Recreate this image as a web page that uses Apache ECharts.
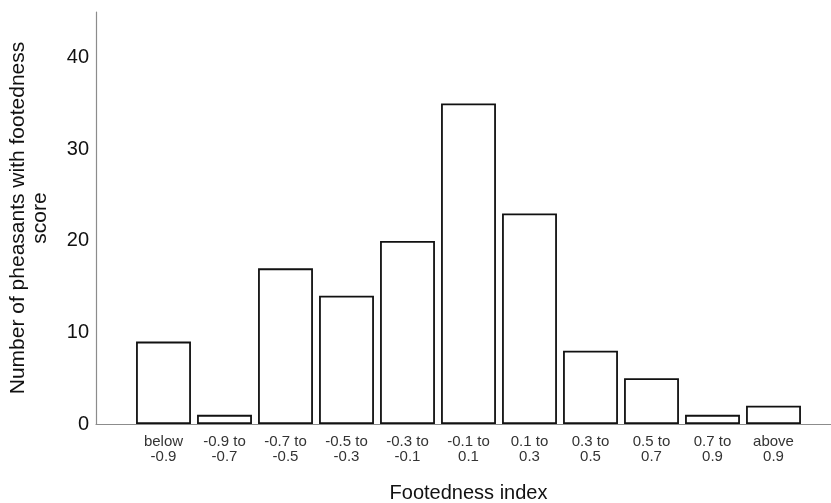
<!DOCTYPE html>
<html><head><meta charset="utf-8">
<script src="https://cdn.jsdelivr.net/npm/echarts@6/dist/echarts.min.js"></script>
<style>html,body{margin:0;padding:0;background:#fff}#c{width:831px;height:503px}</style>
</head><body><div id="c"></div>
<script>
var categories = ['below\n-0.9','-0.9 to\n-0.7','-0.7 to\n-0.5','-0.5 to\n-0.3','-0.3 to\n-0.1','-0.1 to\n0.1','0.1 to\n0.3','0.3 to\n0.5','0.5 to\n0.7','0.7 to\n0.9','above\n0.9'];
var counts = [9, 1, 17, 14, 20, 35, 23, 8, 5, 1, 2];
var yTicks = [0, 10, 20, 30, 40];

var chart = echarts.init(document.getElementById('c'));
chart.setOption({
  animation: false,
  backgroundColor: '#fff',
  grid: [
    {left: 96, right: 0, top: 12, bottom: 79, containLabel: false, outerBoundsMode: 'none'},
    {left: 133, right: 27, top: 12, bottom: 79, containLabel: false, outerBoundsMode: 'none'}
  ],
  xAxis: [
    {gridIndex: 0, type: 'value', min: 0, max: 1,
     axisLine: {show: true, lineStyle: {color: '#8c8c8c', width: 1.2}},
     axisTick: {show: false}, axisLabel: {show: false}, splitLine: {show: false}},
    {gridIndex: 1, type: 'category', data: categories,
     axisLine: {show: false}, axisTick: {show: false},
     axisLabel: {fontFamily: 'Liberation Sans, Arial, sans-serif', fontSize: 15, color: '#333', lineHeight: 15.5, margin: 10, interval: 0},
     name: 'Footedness index', nameLocation: 'middle', nameGap: 59,
     nameTextStyle: {fontFamily: 'Liberation Sans, Arial, sans-serif', fontSize: 20, color: '#111'}}
  ],
  yAxis: [
    {gridIndex: 0, type: 'value', min: 0, max: 45, interval: 10,
     axisLine: {show: true, lineStyle: {color: '#8c8c8c', width: 1.2}},
     axisTick: {show: false}, splitLine: {show: false},
     axisLabel: {fontFamily: 'Liberation Sans, Arial, sans-serif', fontSize: 20, color: '#111', margin: 7,
       showMaxLabel: false,
       formatter: function(v){ return yTicks.indexOf(v) >= 0 ? String(v) : ''; }},
     name: 'Number of pheasants with footedness\nscore', nameLocation: 'middle', nameGap: 45,
     nameTextStyle: {fontFamily: 'Liberation Sans, Arial, sans-serif', fontSize: 21, color: '#111', lineHeight: 22}},
    {gridIndex: 1, type: 'value', min: 0, max: 45, show: false, splitLine: {show: false}}
  ],
  series: [{
    type: 'bar', xAxisIndex: 1, yAxisIndex: 1, data: counts,
    barCategoryGap: '10%',
    itemStyle: {color: '#fff', borderColor: '#111', borderWidth: 1.8}
  }]
});
</script></body></html>
